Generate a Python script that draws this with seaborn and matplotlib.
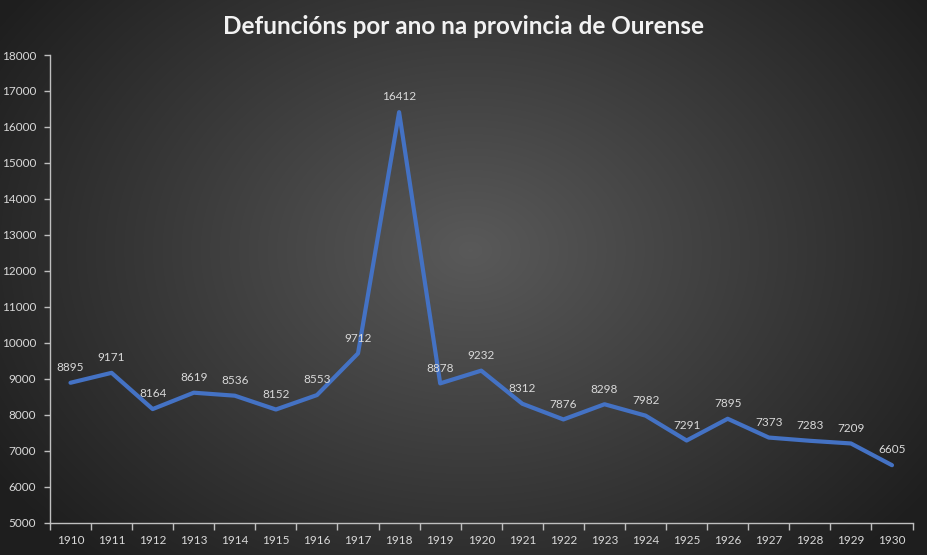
import numpy as np
import matplotlib
matplotlib.use("Agg")
import matplotlib.pyplot as plt
import pandas as pd
import seaborn as sns

# datos
anos = [str(a) for a in range(1910, 1931)]
defuncions = [8895, 9171, 8164, 8619, 8536, 8152, 8553, 9712, 16412, 8878,
              9232, 8312, 7876, 8298, 7982, 7291, 7895, 7373, 7283, 7209, 6605]
yticks = list(range(5000, 18001, 1000))

df = pd.DataFrame({"pos": np.arange(len(anos)), "ano": anos, "defuncions": defuncions})

sns.set_theme(style="dark")
plt.rcParams['font.family'] = ['Lato', 'DejaVu Sans']

fig = plt.figure(figsize=(9.27, 5.55), dpi=100)

# fondo con degradado radial
bg = fig.add_axes([0, 0, 1, 1], zorder=-1)
yy, xx = np.mgrid[0:555, 0:927]
r = np.sqrt(((xx - 470) / 560.0) ** 2 + ((yy - 250) / 420.0) ** 2)
r = np.clip(r, 0, 1)
grey = 0.35 - 0.23 * r
img = np.dstack([grey, grey, grey])
bg.imshow(img, aspect="auto", extent=[0, 1, 0, 1], interpolation="bilinear")
bg.axis("off")

ax = fig.add_axes([0.0539, 0.0577, 0.9305, 0.8432])
ax.set_facecolor("none")
sns.lineplot(data=df, x="pos", y="defuncions", ax=ax, color="#4472C4", linewidth=3.0)

for p, v in zip(df["pos"], df["defuncions"]):
    ax.annotate(str(v), (p, v), xytext=(0, 7), textcoords="offset points",
                ha="center", va="bottom", color="#d9d9d9", fontsize=8.5)

ax.set_xlim(-0.5, len(anos) - 0.5)
ax.set_ylim(5000, 18000)
ax.set_yticks(yticks)
ax.set_yticklabels([str(t) for t in yticks])
ax.set_xticks(df["pos"])
ax.set_xticklabels(anos)
ax.set_xticks(np.arange(-0.5, len(anos), 1.0), minor=True)
ax.tick_params(axis="x", which="major", length=0, pad=9, colors="#d9d9d9", labelsize=8.5)
ax.tick_params(axis="x", which="minor", length=5, width=1, color="#bfbfbf", direction="out", bottom=True)
ax.tick_params(axis="y", length=4, width=1, direction="out", left=True,
               labelcolor="#d9d9d9", color="#bfbfbf", labelsize=8.5, pad=6)
ax.grid(False)
for s in ["top", "right"]:
    ax.spines[s].set_visible(False)
for s in ["left", "bottom"]:
    ax.spines[s].set_visible(True)
    ax.spines[s].set_color("#bfbfbf")
    ax.spines[s].set_linewidth(1)
ax.set_xlabel("")
ax.set_ylabel("")

fig.text(0.5, 0.953, "Defuncións por ano na provincia de Ourense", ha="center", va="center",
         color="#f2f2f2", fontsize=17.5, fontweight="bold")

fig.savefig("out.png", dpi=100)
